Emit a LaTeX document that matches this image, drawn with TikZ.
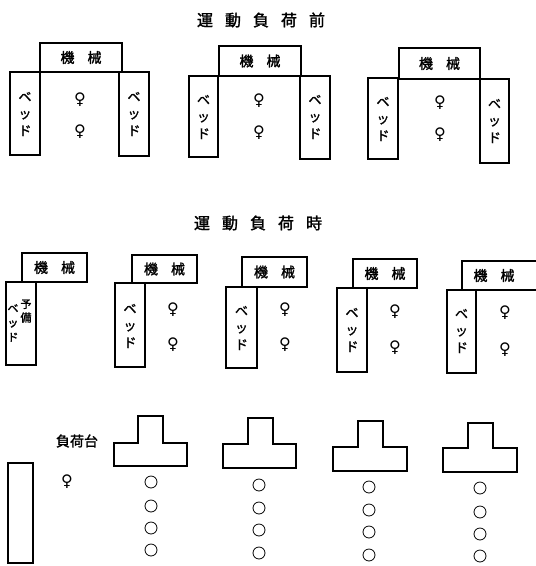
\documentclass[tikz,border=0pt]{standalone}
\usepackage{fontspec}
\newfontfamily\jp{Noto Sans CJK JP}
\newfontfamily\jpb[FakeBold=1.6]{Noto Sans CJK JP}
\newfontfamily\symf{DejaVu Sans}
\tikzset{
  shp/.style={draw=black, line width=1.2pt, line join=miter},
  ttl/.style={font=\jpb\fontsize{16}{16}\selectfont, inner sep=0pt},
  mach/.style={font=\jpb\fontsize{14}{14}\selectfont, inner sep=0pt},
  bedtxt/.style={font=\jpb\fontsize{13}{17}\selectfont, align=center, inner sep=0pt},
  fem/.style={font=\symf\fontsize{16}{16}\selectfont, inner sep=0pt},
  lbl/.style={font=\jpb\fontsize{14}{14}\selectfont, inner sep=0pt},
  seat/.style={draw=black, line width=0.8pt, circle, minimum size=12pt, inner sep=0pt}
}
\newcommand{\kikai}{機\hspace{13pt}械}
\newcommand{\bedv}{ベ\\ッ\\ド}
\begin{document}
\begin{tikzpicture}[x=1pt,y=-1pt]
\useasboundingbox (0,0) rectangle (536,566);
\clip (0,0) rectangle (536,566);
% titles
\node[ttl] (t1) at (261,20) {運\hspace{12pt}動\hspace{12pt}負\hspace{12pt}荷\hspace{12pt}前};
\node[ttl] (t2) at (258,223) {運\hspace{12pt}動\hspace{12pt}負\hspace{12pt}荷\hspace{12pt}時};

% ---------- top row ----------
% group 1
\draw[shp] (40,43) rectangle (122,72);
\node[mach] (am1) at (81,57.5) {\kikai};
\draw[shp] (10,72) rectangle (40,155);
\node[bedtxt] (ab1l) at (25,114) {\bedv};
\draw[shp] (119,72) rectangle (149,156);
\node[bedtxt] (ab1r) at (134,114) {\bedv};
\node[fem] (af1a) at (80,100) {♀};
\node[fem] (af1b) at (80,132) {♀};
% group 2
\draw[shp] (219,46) rectangle (301,76);
\node[mach] (am2) at (260,61) {\kikai};
\draw[shp] (189,76) rectangle (218,157);
\node[bedtxt] (ab2l) at (203.5,117) {\bedv};
\draw[shp] (300,76) rectangle (330,159);
\node[bedtxt] (ab2r) at (315,117) {\bedv};
\node[fem] (af2a) at (259,101) {♀};
\node[fem] (af2b) at (259,133) {♀};
% group 3
\draw[shp] (399,48) rectangle (480,79);
\node[mach] (am3) at (439.5,63.5) {\kikai};
\draw[shp] (368,78) rectangle (398,159);
\node[bedtxt] (ab3l) at (383,119) {\bedv};
\draw[shp] (480,79) rectangle (509,163);
\node[bedtxt] (ab3r) at (494.5,121) {\bedv};
\node[fem] (af3a) at (440,103) {♀};
\node[fem] (af3b) at (440,135) {♀};

% ---------- middle row ----------
% group 1
\draw[shp] (22,253) rectangle (87,282);
\node[mach] (bm1) at (54.5,267.5) {\kikai};
\draw[shp] (6,282) rectangle (36,365);
\node[bedtxt, font=\jpb\fontsize{11}{14.5}\selectfont] (bb1a) at (13,323) {\bedv};
\node[bedtxt, font=\jpb\fontsize{11}{13.5}\selectfont] (bb1b) at (26,311) {予\\備};
% group 2
\draw[shp] (132,255) rectangle (197,283);
\node[mach] (bm2) at (164.5,269) {\kikai};
\draw[shp] (115,283) rectangle (145,367);
\node[bedtxt] (bb2) at (130,326) {\bedv};
\node[fem] (bf2a) at (173,310) {♀};
\node[fem] (bf2b) at (173,345) {♀};
% group 3
\draw[shp] (242,257) rectangle (307,287);
\node[mach] (bm3) at (274.5,272) {\kikai};
\draw[shp] (226,287) rectangle (257,368);
\node[bedtxt] (bb3) at (241.5,328) {\bedv};
\node[fem] (bf3a) at (285,310) {♀};
\node[fem] (bf3b) at (285,345) {♀};
% group 4
\draw[shp] (353,259) rectangle (417,288);
\node[mach] (bm4) at (385,273.5) {\kikai};
\draw[shp] (337,288) rectangle (367,372);
\node[bedtxt] (bb4) at (352,330) {\bedv};
\node[fem] (bf4a) at (395,312) {♀};
\node[fem] (bf4b) at (395,348) {♀};
% group 5
\draw[shp] (462,261) rectangle (560,290);
\node[mach] (bm5) at (494,275.5) {\kikai};
\draw[shp] (447,290) rectangle (476,373);
\node[bedtxt] (bb5) at (461.5,331) {\bedv};
\node[fem] (bf5a) at (505,313) {♀};
\node[fem] (bf5b) at (505,350) {♀};

% ---------- bottom row ----------
\draw[shp] (8,463) rectangle (33,563);
\node[lbl] (fukadai) at (77,441) {負荷台};
\node[fem] (cf) at (67,482) {♀};
% T1
\draw[shp] (114,466) -- (114,443) -- (138,443) -- (138,416) -- (163,416) -- (163,443) -- (187,443) -- (187,466) -- cycle;
\node[seat] (c11) at (151,482) {};
\node[seat] (c12) at (151,506) {};
\node[seat] (c13) at (151,528) {};
\node[seat] (c14) at (151,550) {};
% T2
\draw[shp] (223,468) -- (223,444) -- (248,444) -- (248,418) -- (273,418) -- (273,444) -- (296,444) -- (296,468) -- cycle;
\node[seat] (c21) at (259,485) {};
\node[seat] (c22) at (259,508) {};
\node[seat] (c23) at (259,530) {};
\node[seat] (c24) at (259,553) {};
% T3
\draw[shp] (333,471) -- (333,447) -- (358,447) -- (358,421) -- (383,421) -- (383,447) -- (407,447) -- (407,471) -- cycle;
\node[seat] (c31) at (369,487) {};
\node[seat] (c32) at (369,510) {};
\node[seat] (c33) at (369,532) {};
\node[seat] (c34) at (369,555) {};
% T4
\draw[shp] (443,472) -- (443,448) -- (468,448) -- (468,423) -- (493,423) -- (493,448) -- (517,448) -- (517,472) -- cycle;
\node[seat] (c41) at (480,488) {};
\node[seat] (c42) at (480,512) {};
\node[seat] (c43) at (480,534) {};
\node[seat] (c44) at (480,556) {};
\end{tikzpicture}
\end{document}
